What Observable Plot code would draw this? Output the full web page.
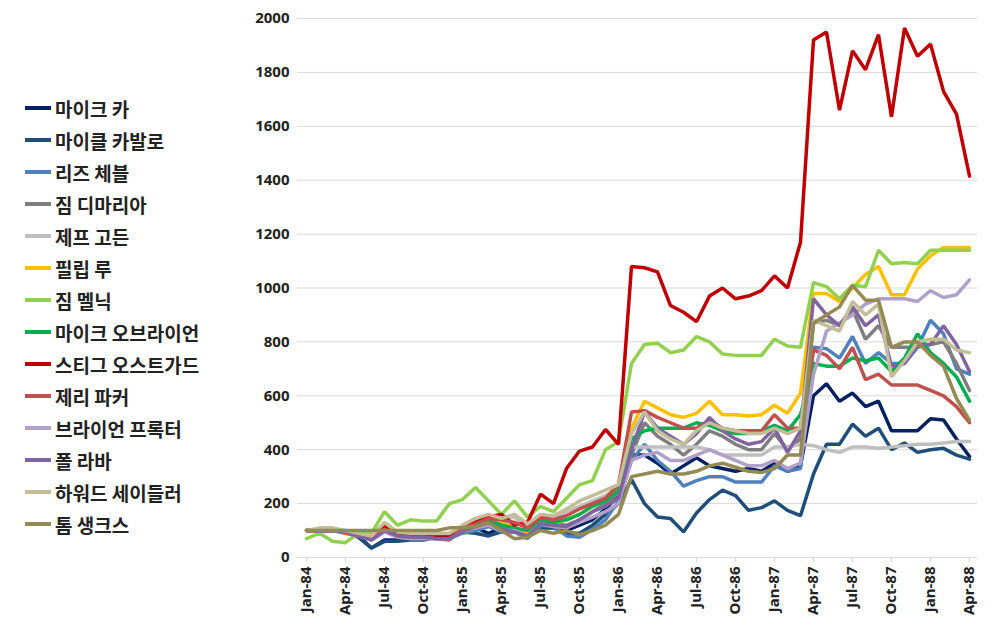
<!DOCTYPE html>
<html><head><meta charset="utf-8">
<script src="https://cdn.jsdelivr.net/npm/d3@7"></script>
<script src="https://cdn.jsdelivr.net/npm/@observablehq/plot@0.6"></script>
<style>
body{margin:0;background:#fff;font-family:"Noto Sans CJK KR","Noto Sans",sans-serif;}
#wrap{position:relative;width:998px;height:635px;}
#legend{position:absolute;left:25px;top:92px;}
.li{display:flex;align-items:center;height:32px;font-size:19px;font-weight:bold;color:#222;}
.sw{width:26px;height:4px;margin-right:4px;}
</style></head><body>
<div id="wrap"><div id="chart"></div><div id="legend"></div></div>
<script>
const months=["Jan-84","Feb-84","Mar-84","Apr-84","May-84","Jun-84","Jul-84","Aug-84","Sep-84","Oct-84","Nov-84","Dec-84",
"Jan-85","Feb-85","Mar-85","Apr-85","May-85","Jun-85","Jul-85","Aug-85","Sep-85","Oct-85","Nov-85","Dec-85",
"Jan-86","Feb-86","Mar-86","Apr-86","May-86","Jun-86","Jul-86","Aug-86","Sep-86","Oct-86","Nov-86","Dec-86",
"Jan-87","Feb-87","Mar-87","Apr-87","May-87","Jun-87","Jul-87","Aug-87","Sep-87","Oct-87","Nov-87","Dec-87",
"Jan-88","Feb-88","Mar-88","Apr-88"];
const tickLabels=["Jan-84","Apr-84","Jul-84","Oct-84","Jan-85","Apr-85","Jul-85","Oct-85","Jan-86","Apr-86","Jul-86","Oct-86","Jan-87","Apr-87","Jul-87","Oct-87","Jan-88","Apr-88"];
const names=["마이크 카","마이클 카발로","리즈 체블","짐 디마리아","제프 고든","필립 루","짐 멜닉","마이크 오브라이언","스티그 오스트가드","제리 파커","브라이언 프록터","폴 라바","하워드 세이들러","톰 생크스"];
const colors=["#002060","#1F4E79","#4F81BD","#7F7F7F","#BFBFBF","#FFC000","#92D050","#00B050","#C00000","#C0504D","#B1A0C7","#8064A2","#C4BD97","#948A54"];
const mikeCarr=[100,100,100,95,80,35,65,65,70,70,75,80,95,110,90,110,100,90,110,110,100,120,140,180,230,380,380,350,310,340,370,340,330,320,330,320,350,320,340,600,645,580,610,560,580,470,470,470,515,510,440,375];
const cavallo=[100,100,100,95,75,35,60,60,65,65,75,80,95,90,80,95,95,80,110,110,90,90,120,160,200,290,200,150,145,95,165,215,250,230,175,185,210,175,155,310,420,420,495,450,480,400,425,390,400,405,380,365];
const chebul=[100,100,100,95,80,70,105,80,75,75,70,70,90,100,115,95,95,70,120,115,80,75,105,140,210,360,420,360,320,265,285,300,300,280,280,280,340,320,330,780,775,740,820,720,760,720,720,780,880,830,700,680];
const dimaria=[100,100,100,95,85,70,110,85,80,80,80,80,100,120,140,115,105,85,135,125,120,140,170,200,240,380,500,450,420,380,420,470,450,420,400,400,460,400,440,870,880,860,920,810,860,780,780,780,790,800,720,620];
const gordon=[100,105,105,100,90,75,120,90,85,85,85,85,105,140,150,140,150,110,160,150,170,190,210,230,260,410,410,410,410,410,410,400,380,380,380,380,410,410,420,415,400,390,410,410,405,410,415,420,420,425,430,430];
const lu=[100,100,100,95,85,70,110,85,80,80,80,80,100,125,140,130,110,90,140,125,140,160,190,220,270,480,580,555,530,520,535,580,530,530,525,530,565,535,610,980,980,950,1000,1050,1080,975,975,1070,1120,1150,1150,1150];
const melnick=[70,90,60,55,90,90,170,120,140,135,135,200,215,260,210,160,210,150,190,170,220,270,285,400,430,720,790,795,760,770,820,800,755,750,750,750,810,785,780,1020,1005,960,1010,1005,1140,1090,1095,1090,1140,1140,1140,1140];
const obrien=[100,100,100,95,85,70,110,85,80,80,80,80,100,120,140,120,110,100,140,130,140,160,190,210,250,440,470,480,480,480,500,490,470,460,460,470,490,470,530,720,710,710,740,730,740,690,740,830,760,720,670,580];
const ostgaard=[100,100,100,95,85,75,115,80,80,75,75,75,110,130,150,160,120,130,235,200,330,395,410,475,420,1080,1075,1060,935,910,875,970,1000,960,970,990,1045,1000,1170,1920,1950,1660,1880,1810,1940,1635,1965,1860,1905,1730,1645,1415];
const parker=[100,100,100,90,80,70,105,80,75,75,70,65,110,125,145,140,130,110,150,140,155,180,200,220,270,540,545,520,500,480,480,510,480,470,470,470,530,480,480,770,750,700,780,660,680,640,640,640,620,600,560,500];
const proctor=[100,100,100,95,80,65,95,75,70,70,70,70,95,110,120,100,100,80,125,115,110,130,150,170,200,360,380,390,360,360,380,400,380,360,340,340,360,330,350,680,840,870,900,940,960,960,960,950,990,965,975,1030];
const raba=[100,100,100,95,80,65,100,80,75,75,70,70,95,115,130,105,95,80,125,120,115,140,170,190,220,400,540,480,450,420,460,520,470,440,420,430,480,390,470,960,900,860,930,860,900,710,720,790,790,860,790,690];
const seidler=[100,110,110,100,90,80,130,95,90,90,90,90,120,145,160,145,160,125,160,155,180,210,230,250,270,460,540,470,440,420,470,500,480,470,460,460,480,460,480,880,860,840,950,900,940,670,730,800,810,810,770,760];
const sachs=[100,100,100,100,100,100,100,100,100,100,100,110,110,115,130,100,70,75,100,90,100,85,100,120,160,300,310,320,310,310,320,340,350,335,320,315,330,380,380,870,900,930,1010,955,955,780,800,800,750,710,590,510];
const series=[mikeCarr,cavallo,chebul,dimaria,gordon,lu,melnick,obrien,ostgaard,parker,proctor,raba,seidler,sachs];
const data=[];
series.forEach((s,k)=>s.forEach((v,i)=>data.push({name:names[k],month:months[i],value:v})));
const plot=Plot.plot({
  width:998,height:635,marginLeft:297,marginRight:21,marginTop:18,marginBottom:78,
  style:{fontFamily:"Noto Sans, sans-serif",fontSize:"15px",fontWeight:"bold",color:"#222"},
  x:{type:"point",domain:months,label:null},
  y:{domain:[0,2000],label:null,grid:false},
  color:{domain:names,range:colors},
  marks:[
    Plot.gridY(d3.range(200,2001,200),{stroke:"#d9d9d9",strokeOpacity:1}),
    Plot.ruleY([0],{stroke:"#d9d9d9"}),
    Plot.axisY({ticks:d3.range(0,2001,200),tickFormat:d=>String(d),tickSize:0,tickPadding:8,label:null}),
    Plot.axisX({ticks:tickLabels,tickSize:5,tickRotate:-90,label:null,tickPadding:4,stroke:"#d9d9d9"}),
    Plot.line(data,{x:"month",y:"value",z:"name",stroke:"name",strokeWidth:3.5,strokeLinejoin:"miter"})
  ]
});
document.getElementById("chart").append(plot);
const lg=document.getElementById("legend");
names.forEach((n,i)=>{const d=document.createElement("div");d.className="li";
d.innerHTML=`<span class="sw" style="background:${colors[i]}"></span>${n}`;lg.append(d);});
</script></body></html>
